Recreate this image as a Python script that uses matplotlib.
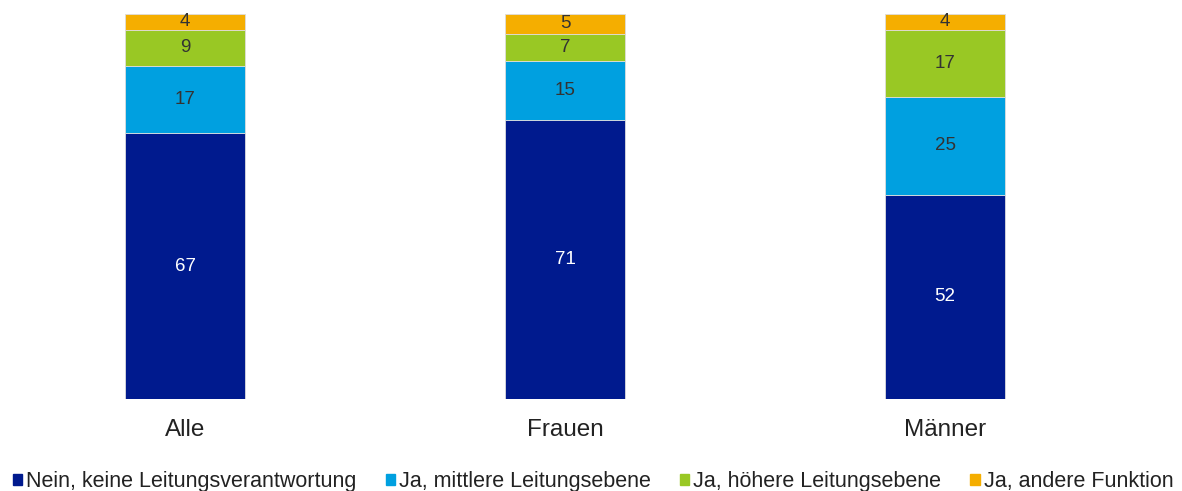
import numpy as np
import matplotlib.pyplot as plt
from matplotlib.patches import Patch

plt.rcParams['font.family'] = ['Liberation Sans', 'DejaVu Sans']

groups = ['Alle', 'Frauen', 'Männer']
series = ['Nein, keine Leitungsverantwortung', 'Ja, mittlere Leitungsebene',
          'Ja, höhere Leitungsebene', 'Ja, andere Funktion']
nein = [67, 71, 52]
mittel = [17, 15, 25]
hoch = [9, 7, 17]
andere = [4, 5, 4]
colors = ['#001A8E', '#00A0E0', '#99C824', '#F5AE00']
txtcol = ['white', '#333333', '#333333', '#333333']

vals = np.array([nein, mittel, hoch, andere], dtype=float)
shares = vals / vals.sum(axis=0) * 100  # bars are drawn to full height

fig = plt.figure(figsize=(11.82, 4.91), dpi=100)
ax = fig.add_axes([0, 92/491, 1, 385/491])
x = np.arange(len(groups))
bottom = np.zeros(len(groups))
for i in range(4):
    ax.bar(x, shares[i], 120/380, bottom=bottom, color=colors[i],
           edgecolor='#dddddd', linewidth=0.6)
    for j in range(len(groups)):
        ax.text(x[j], bottom[j] + shares[i][j] / 2, '%d' % vals[i][j],
                ha='center', va='center', fontsize=13.5, color=txtcol[i])
    bottom += shares[i]

ax.set_xlim(-185/380, (1182-185)/380)
ax.set_ylim(0, 100)
ax.axis('off')
for j, g in enumerate(groups):
    ax.text(x[j], -8.0, g, ha='center', va='center', fontsize=17.5, color='#222222')

handles = [Patch(color=c) for c in colors]
fig.legend(handles, series, loc='center left', bbox_to_anchor=(13/1182, 1-482/491),
           ncol=4, frameon=False, fontsize=15.5, handlelength=0.42, handleheight=0.42,
           handletextpad=0.2, columnspacing=1.35, borderaxespad=0, borderpad=0,
           labelcolor='#222222')
plt.savefig('out.png', dpi=100)
